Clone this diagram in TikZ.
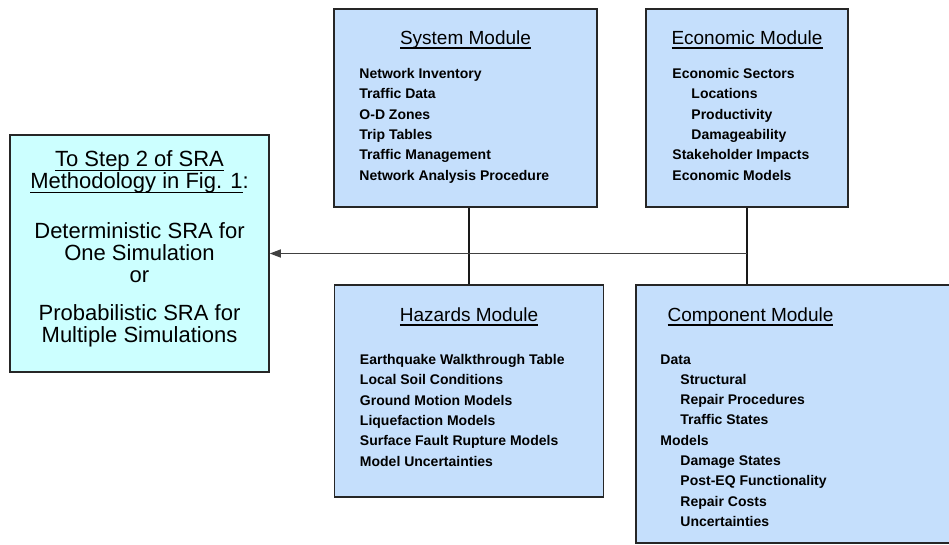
\documentclass[tikz,border=0pt]{standalone}
\usepackage{fontspec}
\setmainfont{Liberation Sans}
\usepackage{xcolor}
\usepackage{tikz}
\usetikzlibrary{arrows.meta, positioning}
\definecolor{modblue}{RGB}{197,223,252}
\definecolor{stepcyan}{RGB}{204,255,255}
\newcommand{\ulbar}[1]{\sbox0{#1}\rlap{\vrule width\wd0 height -3.2pt depth 4.3pt}\usebox0}

\begin{document}
\begin{tikzpicture}[
  x=1pt, y=-1pt,
  every node/.style={text=black},
  mod/.style={rectangle, draw=black!85, line width=1.5pt, fill=modblue, inner sep=0pt},
  ttl/.style={font=\fontsize{19}{22}\selectfont, anchor=base, inner sep=0pt},
  lst/.style={font=\fontsize{14}{20.3}\selectfont\bfseries, align=left,
              anchor=north west, inner sep=0pt},
  stp/.style={font=\fontsize{22}{22}\selectfont, align=center,
              anchor=north, inner sep=0pt},
  conn/.style={line width=1.5pt, black!90},
  ar/.style={-{Triangle[length=11pt, width=8pt]}, line width=1.4pt, black!75}
]
\useasboundingbox (0,0) rectangle (949,544);
\clip (0,0) rectangle (949,544);
% boxes
\node[mod, minimum width=263, minimum height=198] (sys)  at (465.5,108) {};
\node[mod, minimum width=202, minimum height=198] (eco)  at (747,108)   {};
\node[mod, minimum width=269, minimum height=212] (haz)  at (469,391)   {};
\node[mod, minimum width=319, minimum height=258] (comp) at (795.5,414) {};
\node[mod, fill=stepcyan, minimum width=259, minimum height=237] (step) at (139.5,253.5) {};
% titles
\node[ttl] (systtl)  at ([yshift=-36pt]sys.north)  {\ulbar{System Module}};
\node[ttl] (ecottl)  at ([yshift=-36pt]eco.north)  {\ulbar{Economic Module}};
\node[ttl] (hazttl)  at ([yshift=-37pt]haz.north)  {\ulbar{Hazards Module}};
\node[ttl] (compttl) at ([xshift=-45pt,yshift=-37pt]comp.north) {\ulbar{Component Module}};
% item lists
\node[lst] (syslst) at ([xshift=26pt,yshift=-60pt]sys.north west)
  {Network Inventory\\ Traffic Data\\ O-D Zones\\ Trip Tables\\
   Traffic Management\\ Network Analysis Procedure};
\node[lst] (ecolst) at ([xshift=27pt,yshift=-60pt]eco.north west)
  {Economic Sectors\\ \hspace*{19pt}Locations\\ \hspace*{19pt}Productivity\\
   \hspace*{19pt}Damageability\\ Stakeholder Impacts\\ Economic Models};
\node[lst] (hazlst) at ([xshift=26pt,yshift=-70pt]haz.north west)
  {Earthquake Walkthrough Table\\ Local Soil Conditions\\ Ground Motion Models\\
   Liquefaction Models\\ Surface Fault Rupture Models\\ Model Uncertainties};
\node[lst] (complst) at ([xshift=25pt,yshift=-70pt]comp.north west)
  {Data\\ \hspace*{20pt}Structural\\ \hspace*{20pt}Repair Procedures\\
   \hspace*{20pt}Traffic States\\ Models\\ \hspace*{20pt}Damage States\\
   \hspace*{20pt}Post-EQ Functionality\\ \hspace*{20pt}Repair Costs\\
   \hspace*{20pt}Uncertainties};
\node[stp] (steptxt) at ([yshift=-16pt]step.north)
  {\ulbar{To Step 2 of SRA}\\ \ulbar{Methodology in Fig. 1}:\\[28pt]
   Deterministic SRA for\\ One Simulation\\ or\\[16pt]
   Probabilistic SRA for\\ Multiple Simulations};
% connectors
\draw[conn] (haz.north) -- (haz.north |- sys.south);
\draw[conn] (eco.south) -- (eco.south |- comp.north);
\coordinate (jn) at (eco.south |- step.east);
\draw[ar] (jn) -- (step);
\end{tikzpicture}
\end{document}
